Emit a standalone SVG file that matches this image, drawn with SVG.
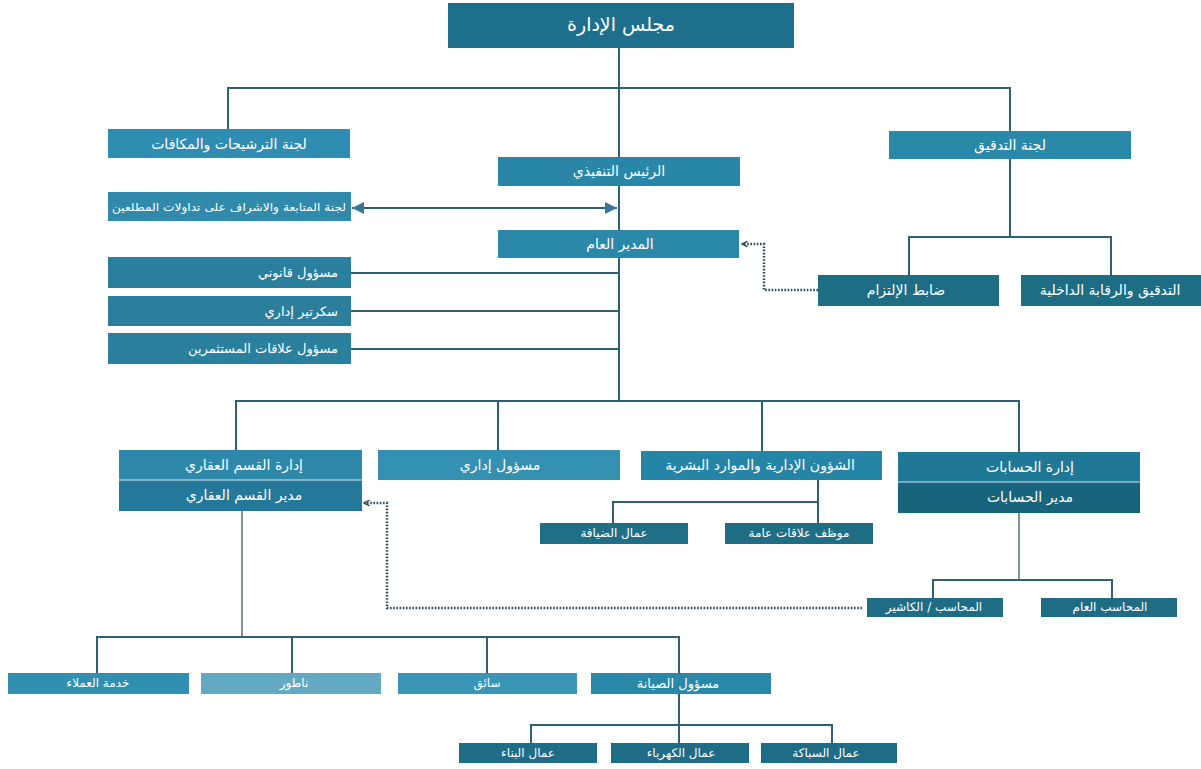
<svg xmlns="http://www.w3.org/2000/svg" width="1201" height="769" viewBox="0 0 1201 769">
<defs>
<style>
text{font-family:"DejaVu Sans","Noto Sans",sans-serif;fill:#ffffff;text-anchor:middle;dominant-baseline:central;font-size:14px}
.c{fill:none;stroke:#2f5f75;stroke-width:2}
.lt{fill:none;stroke:#7f949e;stroke-width:2}
.d{fill:none;stroke:#2c4a60;stroke-width:2.5;stroke-dasharray:1.6 1.6}
.sep{stroke:#d6e8ee;stroke-width:1.2}
.m{font-size:13px}
.s{font-size:12px}
.xs{font-size:11px}
.b{font-size:19px}
.r{text-anchor:end}
</style>
<marker id="ah" viewBox="0 0 10 10" refX="10" refY="5" markerWidth="6" markerHeight="6" orient="auto-start-reverse">
<path d="M0,0 L10,5 L0,10 z" fill="#3b7596"/>
</marker>
<marker id="dh" viewBox="0 0 10 10" refX="9" refY="5" markerWidth="7" markerHeight="7" markerUnits="userSpaceOnUse" orient="auto">
<path d="M1,1 L9,5 L1,9" fill="none" stroke="#2c4a60" stroke-width="2"/>
</marker>
</defs>
<rect width="1201" height="769" fill="#ffffff"/>

<g id="connectors">
<path class="c" d="M619,48 V401"/>
<path class="c" d="M228,129 V88 H1010 V131"/>
<path class="c" d="M352,208 H617" marker-start="url(#ah)" marker-end="url(#ah)"/>
<path class="c" d="M351,273 H619"/>
<path class="c" d="M351,311 H619"/>
<path class="c" d="M351,349 H619"/>
<path class="c" d="M1010,159 V237"/>
<path class="c" d="M909,275 V237 H1111 V275"/>
<path class="d" d="M818,290 H764 V244 H742" marker-end="url(#dh)"/>
<path class="c" d="M236,450 V401 H1019 V452"/>
<path class="c" d="M498,401 V450"/>
<path class="c" d="M762,401 V451"/>
<path class="c" d="M613,523 V502 H818"/>
<path class="c" d="M818,480 V523"/>
<path class="lt" d="M1019,513 V580"/>
<path class="c" d="M933,598 V580 H1112 V598"/>
<path class="d" d="M862,608 H387 V503 H364" marker-end="url(#dh)"/>
<path class="lt" d="M242,511 V637"/>
<path class="c" d="M97,673 V637 H679 V673"/>
<path class="c" d="M292,637 V673"/>
<path class="c" d="M487,637 V673"/>
<path class="c" d="M679,694 V743"/>
<path class="c" d="M531,743 V725 H832 V743"/>
</g>

<g id="board"><rect x="448" y="3" width="346" height="45" fill="#1e6f8c"/><text class="b" x="621" y="24">مجلس الإدارة</text></g>
<g id="nomination"><rect x="108" y="129" width="242" height="29" fill="#2e8db0"/><text x="229" y="144">لجنة الترشيحات والمكافات</text></g>
<g id="audit-committee"><rect x="889" y="131" width="242" height="28" fill="#2a89a8"/><text x="1010" y="145">لجنة التدقيق</text></g>
<g id="ceo"><rect x="498" y="157" width="242" height="29" fill="#2a86a7"/><text x="619" y="171">الرئيس التنفيذي</text></g>
<g id="insiders"><rect x="108" y="192" width="243" height="29" fill="#2f8aac"/><text class="xs" x="229" y="207" textLength="234" lengthAdjust="spacingAndGlyphs">لجنة المتابعة والاشراف على تداولات المطلعين</text></g>
<g id="gm"><rect x="498" y="230" width="241" height="28" fill="#2b88a9"/><text x="620" y="244">المدير العام</text></g>
<g id="legal"><rect x="108" y="257" width="243" height="31" fill="#2a7f9d"/><text class="r m" x="338" y="272">مسؤول قانوني</text></g>
<g id="secretary"><rect x="108" y="296" width="243" height="30" fill="#2b7f9c"/><text class="r m" x="338" y="311">سكرتير إداري</text></g>
<g id="investors"><rect x="108" y="333" width="243" height="31" fill="#2b809e"/><text class="r m" x="338" y="348">مسؤول علاقات المستثمرين</text></g>
<g id="compliance"><rect x="818" y="275" width="181" height="31" fill="#1d6d85"/><text x="906" y="290">ضابط الإلتزام</text></g>
<g id="internal-audit"><rect x="1021" y="275" width="180" height="31" fill="#1d6d85"/><text x="1110" y="290">التدقيق والرقابة الداخلية</text></g>

<g id="realestate"><rect x="119" y="450" width="243" height="30" fill="#2e88a9"/><rect x="119" y="480" width="243" height="31" fill="#24789a"/><line class="sep" x1="119" y1="480" x2="362" y2="480"/><text x="244" y="465">إدارة القسم العقاري</text><text x="244" y="495">مدير القسم العقاري</text></g>
<g id="admin-officer"><rect x="378" y="450" width="242" height="30" fill="#3390b1"/><text x="500" y="465">مسؤول إداري</text></g>
<g id="hr"><rect x="641" y="451" width="241" height="29" fill="#2585a6"/><text x="760" y="465">الشؤون الإدارية والموارد البشرية</text></g>
<g id="accounts"><rect x="898" y="452" width="242" height="30" fill="#1f7896"/><rect x="898" y="482" width="242" height="31" fill="#17647c"/><line class="sep" x1="898" y1="482" x2="1140" y2="482"/><text x="1030" y="467">إدارة الحسابات</text><text x="1030" y="497">مدير الحسابات</text></g>
<g id="hospitality"><rect x="540" y="523" width="148" height="21" fill="#1f6f87"/><text class="s" x="614" y="533">عمال الضيافة</text></g>
<g id="pr"><rect x="725" y="523" width="148" height="21" fill="#1e6e86"/><text class="s" x="799" y="533">موظف علاقات عامة</text></g>
<g id="cashier"><rect x="867" y="598" width="136" height="19" fill="#1e6d85"/><text class="s" x="934" y="607">المحاسب / الكاشير</text></g>
<g id="general-accountant"><rect x="1041" y="598" width="136" height="19" fill="#1e6d85"/><text class="s" x="1110" y="607">المحاسب العام</text></g>

<g id="customer-service"><rect x="8" y="673" width="181" height="21" fill="#3190b0"/><text class="s" x="98" y="683">خدمة العملاء</text></g>
<g id="guard"><rect x="201" y="673" width="180" height="21" fill="#62a9c1"/><text class="s" x="294" y="683">ناطور</text></g>
<g id="driver"><rect x="398" y="673" width="179" height="21" fill="#3b95b4"/><text class="s" x="487" y="683">سائق</text></g>
<g id="maintenance"><rect x="591" y="673" width="180" height="21" fill="#2a88a8"/><text class="m" x="678" y="683">مسؤول الصيانة</text></g>
<g id="builders"><rect x="459" y="743" width="138" height="20" fill="#1f6d86"/><text class="s" x="528" y="753">عمال البناء</text></g>
<g id="electricians"><rect x="611" y="743" width="138" height="20" fill="#1e6c85"/><text class="s" x="681" y="753">عمال الكهرباء</text></g>
<g id="plumbers"><rect x="761" y="743" width="136" height="20" fill="#1e6c85"/><text class="s" x="826" y="753">عمال السباكة</text></g>
</svg>
